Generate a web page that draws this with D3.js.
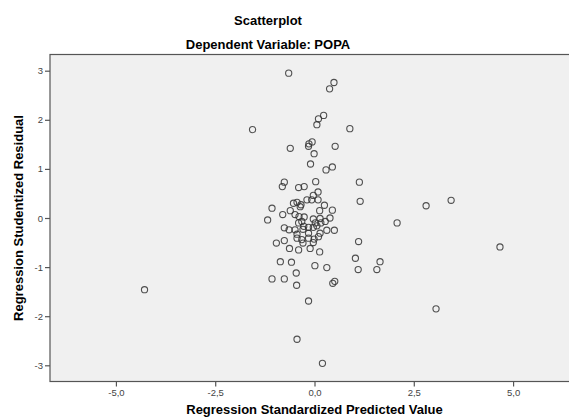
<!DOCTYPE html>
<html>
<head>
<meta charset="utf-8">
<script src="https://cdn.jsdelivr.net/npm/d3@7"></script>
<style>
  body { margin: 0; background: #fff; }
  svg { display: block; font-family: Arial, "Liberation Sans", sans-serif; }
</style>
</head>
<body>
<div id="chart"></div>
<script>
// Regression Standardized Predicted Value
const predicted = [
  -0.65, 0.49, 0.38, 0.23, 0.10, 0.06, -1.56, 0.89, -0.06, -0.14,
  -0.15, -0.61, 0.52, -0.01, -0.10, 0.45, 0.29, -0.76, -0.81, 0.03,
  1.13, -0.40, -0.26, 0.09, -0.03, -0.19, -0.07, 0.09, 1.15, -0.53,
  -0.44, -0.34, -0.36, 0.25, -1.07, -0.61, 0.13, 0.45, -0.80, -0.49,
  -0.39, -0.26, -0.03, 0.14, 0.39, -1.18, 2.08, 0.27, 0.16, 0.02,
  -0.40, -0.32, -0.27, -0.76, -0.64, -0.49, -0.29, -0.15, -0.03, 0.06,
  0.31, 0.50, -0.44, -0.15, 0.14, 0.10, -0.44, -0.32, -0.15, -0.01,
  -0.03, -0.76, -0.96, -0.29, 1.11, -0.63, -0.40, -0.11, 0.13, -0.86,
  -0.58, 0.01, 0.31, 1.03, 1.65, 1.10, 1.57, -0.46, -1.07, -0.76,
  -0.45, 0.46, 0.51, -4.28, 2.81, 3.44, 4.67, 3.06, -0.15, -0.44,
  0.20
];
// Regression Studentized Residual
const residual = [
  2.95, 2.76, 2.63, 2.09, 2.02, 1.90, 1.80, 1.82, 1.55, 1.51,
  1.46, 1.42, 1.46, 1.31, 1.10, 1.04, 0.98, 0.73, 0.64, 0.74,
  0.73, 0.62, 0.64, 0.53, 0.46, 0.37, 0.37, 0.37, 0.34, 0.30,
  0.32, 0.27, 0.23, 0.26, 0.20, 0.15, 0.15, 0.16, 0.07, 0.07,
  0.03, 0.02, -0.02, -0.01, 0.00, -0.04, -0.10, -0.07, -0.10, -0.10,
  -0.10, -0.07, -0.17, -0.20, -0.24, -0.24, -0.23, -0.19, -0.19, -0.16,
  -0.25, -0.25, -0.33, -0.31, -0.31, -0.38, -0.41, -0.44, -0.41, -0.43,
  -0.50, -0.46, -0.51, -0.51, -0.48, -0.62, -0.65, -0.62, -0.69, -0.89,
  -0.90, -0.97, -1.01, -0.82, -0.89, -1.05, -1.05, -1.12, -1.24, -1.24,
  -1.37, -1.33, -1.29, -1.46, 0.25, 0.36, -0.59, -1.85, -1.69, -2.47,
  -2.96
];
const xTicks = [-5, -2.5, 0, 2.5, 5];
const yTicks = [-3, -2, -1, 0, 1, 2, 3];

const width = 569;
const height = 418;
const margin = { top: 54.5, right: -10, bottom: 36.5, left: 50 };

const points = predicted.map((d, i) => ({ x: d, y: residual[i] }));

const svg = d3.select("#chart")
  .append("svg")
  .attr("width", width)
  .attr("height", height);

const x = d3.scaleLinear()
  .domain([-6.66, 6.66])
  .range([margin.left, width - margin.right]);
const y = d3.scaleLinear()
  .domain([-3.33, 3.33])
  .range([height - margin.bottom, margin.top]);

// plot background + frame (right side runs past the window, as in the original)
svg.append("rect")
  .attr("x", x.range()[0])
  .attr("y", margin.top)
  .attr("width", x.range()[1] - x.range()[0])
  .attr("height", height - margin.bottom - margin.top)
  .attr("fill", "#f0f0f0")
  .attr("stroke", "#555")
  .attr("stroke-width", 1.2);

// axes
const fmtX = (d) => d.toFixed(1).replace(".", ",");
const xAxis = svg.append("g")
  .attr("transform", `translate(0,${height - margin.bottom})`)
  .call(d3.axisBottom(x).tickValues(xTicks).tickSize(5).tickPadding(3).tickFormat(fmtX));
const yAxis = svg.append("g")
  .attr("transform", `translate(${margin.left},0)`)
  .call(d3.axisLeft(y).tickValues(yTicks).tickSize(5).tickPadding(2).tickFormat((d) => String(d)));

[xAxis, yAxis].forEach((g) => {
  g.select(".domain").remove();
  g.selectAll(".tick line").attr("stroke", "#555").attr("stroke-width", 1.2);
  g.selectAll(".tick text")
    .attr("fill", "#444")
    .style("font-size", "9.5px")
    .style("font-family", "Arial, 'Liberation Sans', sans-serif");
});

// points
svg.append("g")
  .selectAll("circle")
  .data(points)
  .enter()
  .append("circle")
  .attr("cx", (d) => x(d.x))
  .attr("cy", (d) => y(d.y))
  .attr("r", 3.1)
  .attr("fill", "none")
  .attr("stroke", "#333")
  .attr("stroke-opacity", 0.85)
  .attr("stroke-width", 1.1);

// titles
svg.append("text")
  .attr("x", 268)
  .attr("y", 25)
  .attr("text-anchor", "middle")
  .style("font-size", "13px")
  .style("font-weight", "bold")
  .text("Scatterplot");
svg.append("text")
  .attr("x", 268)
  .attr("y", 49)
  .attr("text-anchor", "middle")
  .style("font-size", "13px")
  .style("font-weight", "bold")
  .text("Dependent Variable: POPA");

svg.append("text")
  .attr("x", 314.5)
  .attr("y", 414)
  .attr("text-anchor", "middle")
  .style("font-size", "13px")
  .style("font-weight", "bold")
  .text("Regression Standardized Predicted Value");

svg.append("text")
  .attr("transform", `translate(23,${y(0)}) rotate(-90)`)
  .attr("text-anchor", "middle")
  .style("font-size", "13px")
  .style("font-weight", "bold")
  .text("Regression Studentized Residual");
</script>
</body>
</html>
